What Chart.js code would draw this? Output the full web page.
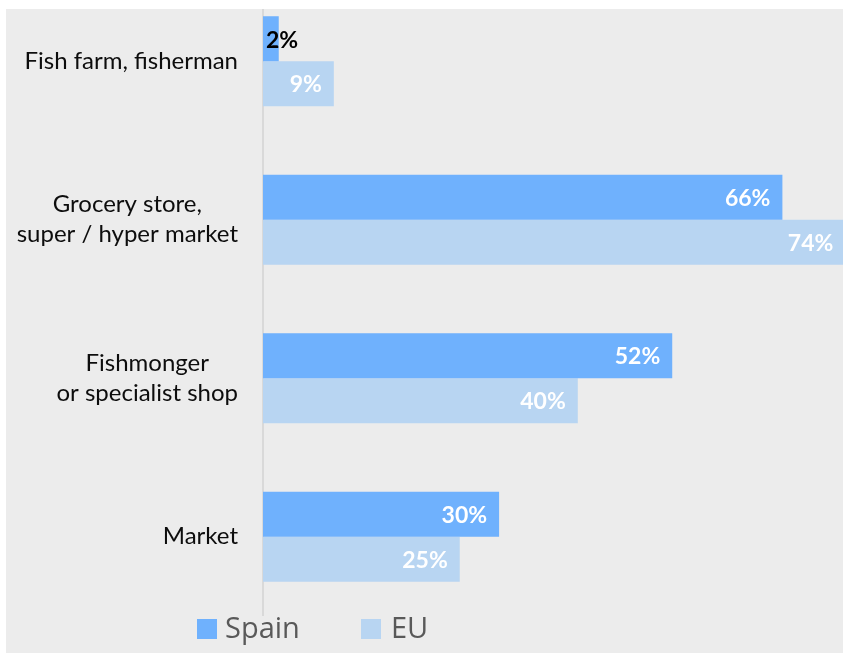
<!DOCTYPE html>
<html>
<head>
<meta charset="utf-8">
<script src="https://cdn.jsdelivr.net/npm/chart.js@4.4.1/dist/chart.umd.min.js"></script>
<style>
    html, body { margin: 0; padding: 0; background: #fff; }
    body { width: 843px; height: 653px; position: relative; overflow: hidden; }
    #panel { position: absolute; left: 6px; top: 9px; width: 837px; height: 644px; background: #ececec; overflow: hidden; }
    #wrap { position: absolute; left: -6px; top: -39px; width: 843px; height: 646px; }
    .lg-box { position: absolute; width: 20px; height: 20px; top: 619px; }
    .lg-text { position: absolute; top: 612px; font: 29px/29px "Open Sans", sans-serif; color: #595959; white-space: nowrap; }
</style>
</head>
<body>
<div id="panel">
    <div id="wrap"><canvas id="chart"></canvas></div>
</div>
<div id="legend"></div>
<script>
// data
const categories = [
    ['Fish farm, fisherman'],
    ['Grocery store,', 'super / hyper market'],
    ['Fishmonger', 'or specialist shop'],
    ['Market']
];
const seriesNames = ['Spain', 'EU'];
const spainValues = [2, 66, 52, 30];
const euValues = [9, 74, 40, 25];
const seriesColors = ['#6fb1fd', '#b8d5f2'];

// category labels: lines centred inside a right-aligned block
const categoryLabels = {
    id: 'categoryLabels',
    afterDraw(chart) {
        const ctx = chart.ctx;
        const yScale = chart.scales.y;
        const right = chart.chartArea.left - 25;
        ctx.save();
        ctx.font = '24px Lato';
        ctx.fillStyle = '#0d0d0d';
        ctx.textAlign = 'center';
        ctx.textBaseline = 'middle';
        categories.forEach((lines, i) => {
            const cy = yScale.getPixelForValue(i);
            const maxW = Math.max(...lines.map(l => ctx.measureText(l).width));
            const cx = right - maxW / 2;
            lines.forEach((line, j) => {
                ctx.fillText(line, cx, cy + (j - (lines.length - 1) / 2) * 30);
            });
        });
        ctx.restore();
    }
};

// value labels at the end of each bar
const valueLabels = {
    id: 'valueLabels',
    afterDatasetsDraw(chart) {
        const ctx = chart.ctx;
        ctx.save();
        ctx.font = 'bold 23px Lato';
        ctx.textBaseline = 'middle';
        chart.data.datasets.forEach((ds, d) => {
            chart.getDatasetMeta(d).data.forEach((bar, i) => {
                const text = ds.data[i] + '%';
                const w = ctx.measureText(text).width;
                if (bar.x - bar.base < w + 20) {
                    ctx.fillStyle = '#000';
                    ctx.textAlign = 'left';
                    ctx.fillText(text, bar.base + 3, bar.y + 2);
                } else {
                    ctx.fillStyle = '#fff';
                    ctx.textAlign = 'right';
                    ctx.fillText(text, bar.x - 12, bar.y + 1);
                }
            });
        });
        ctx.restore();
    }
};

const chart = new Chart(document.getElementById('chart'), {
    type: 'bar',
    data: {
        labels: categories.map(c => c.join(' ')),
        datasets: [
            { label: seriesNames[0], data: spainValues, backgroundColor: seriesColors[0] },
            { label: seriesNames[1], data: euValues, backgroundColor: seriesColors[1] }
        ]
    },
    options: {
        indexAxis: 'y',
        responsive: true,
        maintainAspectRatio: false,
        animation: false,
        categoryPercentage: 0.568,
        barPercentage: 1,
        layout: { padding: { top: 12, right: 0, bottom: 0, left: 0 } },
        plugins: { legend: { display: false }, tooltip: { enabled: false } },
        scales: {
            x: { display: false, min: 0, max: 73.7 },
            y: {
                ticks: { display: false },
                grid: { display: false },
                border: { display: true, color: '#d9d9d9', width: 2 },
                afterFit: function(scale) { scale.width = 263; }
            }
        }
    },
    plugins: [categoryLabels, valueLabels]
});

// legend
const legend = document.getElementById('legend');
const legendX = [[197, 225], [361, 391]];
seriesNames.forEach((name, i) => {
    const box = document.createElement('div');
    box.className = 'lg-box';
    box.style.left = legendX[i][0] + 'px';
    box.style.background = seriesColors[i];
    const txt = document.createElement('div');
    txt.className = 'lg-text';
    txt.style.left = legendX[i][1] + 'px';
    txt.textContent = name;
    legend.appendChild(box);
    legend.appendChild(txt);
});
</script>
</body>
</html>
